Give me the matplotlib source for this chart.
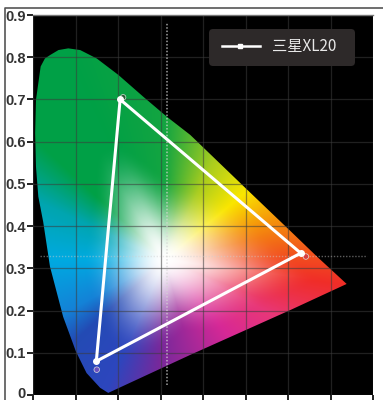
import numpy as np
import matplotlib
matplotlib.use("Agg")
import matplotlib.pyplot as plt
from matplotlib.patches import Polygon, FancyBboxPatch
from matplotlib.transforms import ScaledTranslation

plt.rcParams['font.family'] = ['Liberation Sans', 'Noto Sans CJK SC', 'DejaVu Sans']

# horseshoe outline
locus_x = [0.177, 0.158, 0.126, 0.101, 0.071, 0.040, 0.024, 0.0125, 0.007, 0.005, 0.007, 0.018,
           0.028, 0.040, 0.060, 0.083, 0.111, 0.150, 0.201, 0.260, 0.315, 0.370, 0.499, 0.605,
           0.668, 0.738, 0.605, 0.370]
locus_y = [0.005, 0.017, 0.052, 0.103, 0.185, 0.304, 0.410, 0.470, 0.541, 0.620, 0.699, 0.778,
           0.797, 0.805, 0.817, 0.821, 0.817, 0.797, 0.758, 0.706, 0.659, 0.616, 0.491, 0.389,
           0.328, 0.263, 0.201, 0.095]

# colour seen at the rim, by direction from the white centre
rim_angle = [-180, -152, -138, -114, -93, -50, -27, -8, 21, 40, 64, 90, 115, 137, 155, 180]
rim_r = [0, 20, 35, 45, 120, 215, 232, 240, 245, 250, 170, 20, 0, 0, 0, 0]
rim_g = [170, 130, 75, 70, 40, 40, 55, 45, 150, 230, 205, 165, 160, 160, 165, 170]
rim_b = [225, 215, 180, 190, 155, 150, 120, 40, 10, 0, 30, 65, 70, 70, 175, 225]
# how far out from the centre the rim colour is reached
rim_fade = [0.70, 0.72, 0.72, 0.72, 0.75, 0.78, 0.82, 0.85, 0.82, 0.80, 0.68, 0.58, 0.55, 0.55, 0.62, 0.70]

triangle_x = [0.630, 0.205, 0.149]
triangle_y = [0.336, 0.700, 0.080]
reference_x = [0.642, 0.212, 0.150]
reference_y = [0.328, 0.705, 0.060]
reference_c = ['#d84040', '#2a5a35', '#6a50c0']

y_ticks = [0, 0.1, 0.2, 0.3, 0.4, 0.5, 0.6, 0.7, 0.8, 0.9]
y_labels = ['0', '0.1', '0.2', '0.3', '0.4', '0.5', '0.6', '0.7', '0.8', '0.9']
x_ticks = [0, 0.1, 0.2, 0.3, 0.4, 0.5, 0.6, 0.7, 0.8]

W, H = 383, 400
fig = plt.figure(figsize=(W / 100, H / 100), dpi=100)
fig.patch.set_facecolor('white')

# outer frame of the scan
frame = fig.add_axes([0, 0, 1, 1], zorder=0)
frame.set_xlim(0, W)
frame.set_ylim(H, 0)
frame.axis('off')
frame.plot([5, 5, W], [H, 8, 8], color='#555555', lw=1.2)

ax = fig.add_axes([33 / W, 1 - 395 / H, 340 / W, 380 / H], zorder=1)
ax.set_facecolor('black')
ax.set_xlim(0, 0.8)
ax.set_ylim(0, 0.9)

# colour field: white centre fading out to the rim colours
gx, gy = np.meshgrid(np.linspace(0, 0.8, 340), np.linspace(0, 0.9, 380))
cx, cy = 0.31, 0.32
ang = np.degrees(np.arctan2(gy - cy, gx - cx))
dist = np.hypot(gx - cx, gy - cy)
loc_ang = np.degrees(np.arctan2(np.array(locus_y) - cy, np.array(locus_x) - cx))
loc_r = np.hypot(np.array(locus_x) - cx, np.array(locus_y) - cy)
order = np.argsort(loc_ang)
rim_dist = np.interp(ang, loc_ang[order], loc_r[order], period=360)
t = np.clip(dist / rim_dist / np.interp(ang, rim_angle, rim_fade), 0, 1)
s = t * t * (3 - 2 * t)
rgb = np.stack([1 + (np.interp(ang, rim_angle, c) / 255 - 1) * s
                for c in (rim_r, rim_g, rim_b)], axis=-1)
im = ax.imshow(rgb, origin='lower', extent=(0, 0.8, 0, 0.9), aspect='auto', zorder=1,
               interpolation='bilinear')
clip = Polygon(np.column_stack([locus_x, locus_y]), closed=True, transform=ax.transData,
               fc='none', ec='none')
ax.add_patch(clip)
im.set_clip_path(clip)

ax.set_xticks(x_ticks)
ax.set_yticks(y_ticks)
ax.set_yticklabels(y_labels, fontsize=10.5, fontweight='bold', color='#333333')
ax.set_xticklabels([])
ax.tick_params(axis='both', length=4, width=1.4, color='#222222', pad=1)
ax.grid(True, color='#3c3c3c', lw=0.9, alpha=0.55, zorder=2)
ax.set_axisbelow(False)
for s_ in ax.spines.values():
    s_.set_visible(False)
ax.axhline(0.9, color='#777777', lw=1, zorder=3, clip_on=False)
# keep the bottom 0 inside the image
zero = ax.get_yticklabels()[0]
zero.set_transform(zero.get_transform() + ScaledTranslation(0, 1.6 / 72, fig.dpi_scale_trans))

# dotted white point guides
ax.plot([0.315, 0.315], [0.024, 0.88], color='#d5d5d5', lw=1.1, ls=(0, (1, 1.2)), alpha=0.75, zorder=3)
ax.plot([0.016, 0.787], [0.329, 0.329], color='#cfcfcf', lw=1, ls=(0, (1, 1.2)), alpha=0.45, zorder=3)

# reference gamut markers sitting under the measured triangle
ax.scatter(reference_x, reference_y, s=16, c=reference_c, edgecolors='#dddddd', linewidths=0.5, zorder=4)

ax.plot(triangle_x + triangle_x[:1], triangle_y + triangle_y[:1], color='white', lw=2.2,
        solid_joinstyle='round', zorder=5)
ax.plot(triangle_x, triangle_y, ls='none', marker='o', ms=4, color='white', zorder=6)

# legend plate
plate = FancyBboxPatch((209, 29), 146, 37, boxstyle='round,pad=0,rounding_size=4',
                       fc='#2d2929', ec='none', transform=frame.transData, zorder=7)
fig.add_artist(plate)
fig.add_artist(plt.Line2D([222 / W, 260 / W], [1 - 45.5 / H] * 2, color='white', lw=1.8, zorder=8))
fig.add_artist(plt.Line2D([240 / W], [1 - 45.5 / H], color='white', marker='s', ms=3.5, zorder=8))
fig.text(272 / W, 1 - 46 / H, '三星XL20', color='#e8e8e8', fontsize=11, va='center', ha='left',
         family=['Noto Sans CJK SC', 'DejaVu Sans'], zorder=8)

fig.savefig('out.png', dpi=100)
